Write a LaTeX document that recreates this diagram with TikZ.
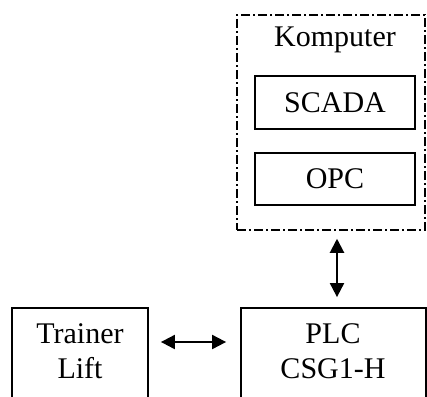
\documentclass[tikz,border=0pt]{standalone}
\usepackage{fontspec}
\setmainfont{Liberation Serif}
\usetikzlibrary{arrows.meta}
\begin{document}
\begin{tikzpicture}[x=1pt,y=-1pt,
  box/.style={draw, line width=1.8pt, rectangle, inner sep=0pt},
  grp/.style={draw, line width=1.5pt, rectangle, inner sep=0pt, dash pattern=on 9pt off 3pt on 2pt off 3pt},
  txt/.style={inner sep=0pt, align=center, font=\fontsize{30}{35}\selectfont},
  arr/.style={line width=2pt, {Triangle[length=14pt,width=14pt]}-{Triangle[length=14pt,width=14pt]}}]
\clip (0,0) rectangle (427,396);
\node[grp, minimum width=188pt, minimum height=215pt] (komp) at (331,122.5) {};
\node[txt] (komptxt) at (335,40) {Komputer};
\node[box, txt, minimum width=160pt, minimum height=53pt] (scada) at (335,102.5) {SCADA};
\node[box, txt, minimum width=160pt, minimum height=52pt] (opc) at (335,179) {OPC};
\node[box, minimum width=136pt, minimum height=120pt] (trainer) at (80,368) {};
\node[txt] (trainertxt) at (80,351) {Trainer\\Lift};
\node[box, minimum width=185pt, minimum height=120pt] (plc) at (333.5,368) {};
\node[txt] (plctxt) at (333,351) {PLC\\CSG1-H};
\draw[arr, shorten <=8pt, shorten >=10pt] ([xshift=6pt]komp.south) -- ([xshift=6pt]komp.south |- plc.north);
\draw[arr, shorten <=12pt, shorten >=14pt] (trainer.east |- 0,342) -- (plc.west |- 0,342);
\end{tikzpicture}
\end{document}
